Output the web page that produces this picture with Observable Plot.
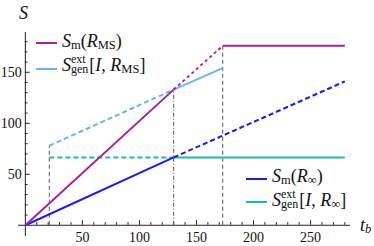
<!DOCTYPE html>
<html><head><meta charset="utf-8">
<script src="https://cdn.jsdelivr.net/npm/d3@7"></script>
<script src="https://cdn.jsdelivr.net/npm/@observablehq/plot@0.6"></script>
<style>
body{margin:0;background:#fff;}
#wrap{position:relative;width:374px;height:246px;color:#111;}
.lab{position:absolute;font-size:18px;white-space:nowrap;line-height:1;}
.ss{display:inline-flex;flex-direction:column;font-size:12px;line-height:9.5px;vertical-align:8px;margin-right:1px;}
sub{font-size:12.5px;vertical-align:-2px;line-height:0;}
i{font-style:italic;}
</style></head>
<body><div id="wrap" style="font-family:'Liberation Serif', serif"></div>
<script>
// Series (t_b, S)
const smMS_t = [0, 130, 173, 280];
const smMS_S = [0, 133, 176, 176];
const genMS_t = [21, 130, 173];
const genMS_S = [78, 133, 154];
const smInf_t = [0, 130, 280];
const smInf_S = [0, 66.5, 141];
const genInf_t = [21, 130, 280];
const genInf_S = [66.5, 66.5, 66.5];
// vertical guides
const guide_t = [21, 130, 173];
const guide_S = [78, 133, 176];
// ticks
const xMajor = [50, 100, 150, 200, 250];
const yMajor = [50, 100, 150];
const xMinor = d3.range(10, 290, 10).filter(v => v % 50 !== 0);
const yMinor = d3.range(10, 190, 10).filter(v => v % 50 !== 0);

const colMS = "#a41fae", colGenMS = "#66b4ff", colInf = "#1a1aff", colGenInf = "#1fb8b0";
const FONT = "'Liberation Serif', serif";

function seg(ts, Ss, i) { return [{t: ts[i], S: Ss[i]}, {t: ts[i+1], S: Ss[i+1]}]; }
const L = (data, stroke, dash) => Plot.line(data, {x: "t", y: "S", stroke, strokeWidth: 2, strokeDasharray: dash, strokeLinecap: "butt"});

const gray = "#555";
const chart = Plot.plot({
  width: 374, height: 246,
  marginLeft: 18, marginRight: 24, marginTop: 32, marginBottom: 10,
  x: {domain: [-6, 285], axis: null},
  y: {domain: [-11, 189], axis: null},
  style: {fontFamily: FONT, background: "white"},
  marks: [
    // axes
    Plot.ruleY([0], {stroke: "#222", strokeWidth: 1}),
    Plot.ruleX([0], {stroke: "#222", strokeWidth: 1}),
    Plot.ruleX(xMajor, {x: d => d, y1: 0, y2: 4.5, stroke: "#222"}),
    Plot.ruleX(xMinor, {x: d => d, y1: 0, y2: 2.6, stroke: "#222"}),
    Plot.ruleY(yMajor, {y: d => d, x1: 0, x2: 4.2, stroke: "#222"}),
    Plot.ruleY(yMinor, {y: d => d, x1: 0, x2: 2.4, stroke: "#222"}),
    Plot.text(xMajor, {x: d => d, y: 0, dy: 12, text: d => String(d), fontSize: 14, fontFamily: FONT, fill: "#111"}),
    Plot.text(yMajor, {x: 0, y: d => d, dx: -3.5, text: d => String(d), fontSize: 14, fontFamily: FONT, textAnchor: "end", fill: "#111"}),
    // guides
    Plot.ruleX([0], {x: guide_t[0], y1: 0, y2: guide_S[0], stroke: gray, strokeDasharray: "4,3"}),
    Plot.ruleX([0], {x: guide_t[1], y1: 0, y2: guide_S[1], stroke: gray, strokeDasharray: "4,2,1,2"}),
    Plot.ruleX([0], {x: guide_t[2], y1: 0, y2: guide_S[2], stroke: gray, strokeDasharray: "4,3"}),
    // series
    L(seg(genInf_t, genInf_S, 0), colGenInf, "5,3"),
    L(seg(genInf_t, genInf_S, 1), colGenInf, null),
    L(seg(genMS_t, genMS_S, 0), colGenMS, "5,3"),
    L(seg(genMS_t, genMS_S, 1), colGenMS, null),
    L(seg(smInf_t, smInf_S, 0), colInf, null),
    L(seg(smInf_t, smInf_S, 1), colInf, "5,3"),
    L(seg(smMS_t, smMS_S, 0), colMS, null),
    L(seg(smMS_t, smMS_S, 1), colMS, "3,3"),
    L(seg(smMS_t, smMS_S, 2), colMS, null)
  ]
});
const wrap = document.getElementById("wrap");
wrap.appendChild(chart);
const add = (html, cls, css) => { const d = document.createElement("div"); d.innerHTML = html; if (cls) d.className = cls; Object.assign(d.style, {fontFamily: FONT}, css); wrap.appendChild(d); return d; };
add("", null, {position:"absolute", left:"36px", top:"42px", width:"21px", height:"2px", background: colMS});
add("", null, {position:"absolute", left:"36px", top:"68px", width:"21px", height:"2px", background: colGenMS});
add("", null, {position:"absolute", left:"246px", top:"178px", width:"21px", height:"2px", background: colInf});
add("", null, {position:"absolute", left:"246px", top:"201px", width:"21px", height:"2px", background: colGenInf});
add('<i>S</i><sub>m</sub>(<i>R</i><sub>MS</sub>)', "lab", {left: "62px", top: "32px"});
add('<i>S</i><span class="ss"><span>ext</span><span>gen</span></span>[<i>I</i>, <i>R</i><sub>MS</sub>]', "lab", {left: "62px", top: "55px"});
add('<i>S</i><sub>m</sub>(<i>R</i><sub>∞</sub>)', "lab", {left: "272px", top: "167px"});
add('<i>S</i><span class="ss"><span>ext</span><span>gen</span></span>[<i>I</i>, <i>R</i><sub>∞</sub>]', "lab", {left: "272px", top: "190px"});
add('<i>S</i>', "lab", {left: "19px", top: "4px", fontSize: "18px"});
add('<i>t</i><sub style="font-size:12.5px"><i>b</i></sub>', "lab", {left: "360px", top: "216px", fontSize: "18px"});
</script></body></html>
